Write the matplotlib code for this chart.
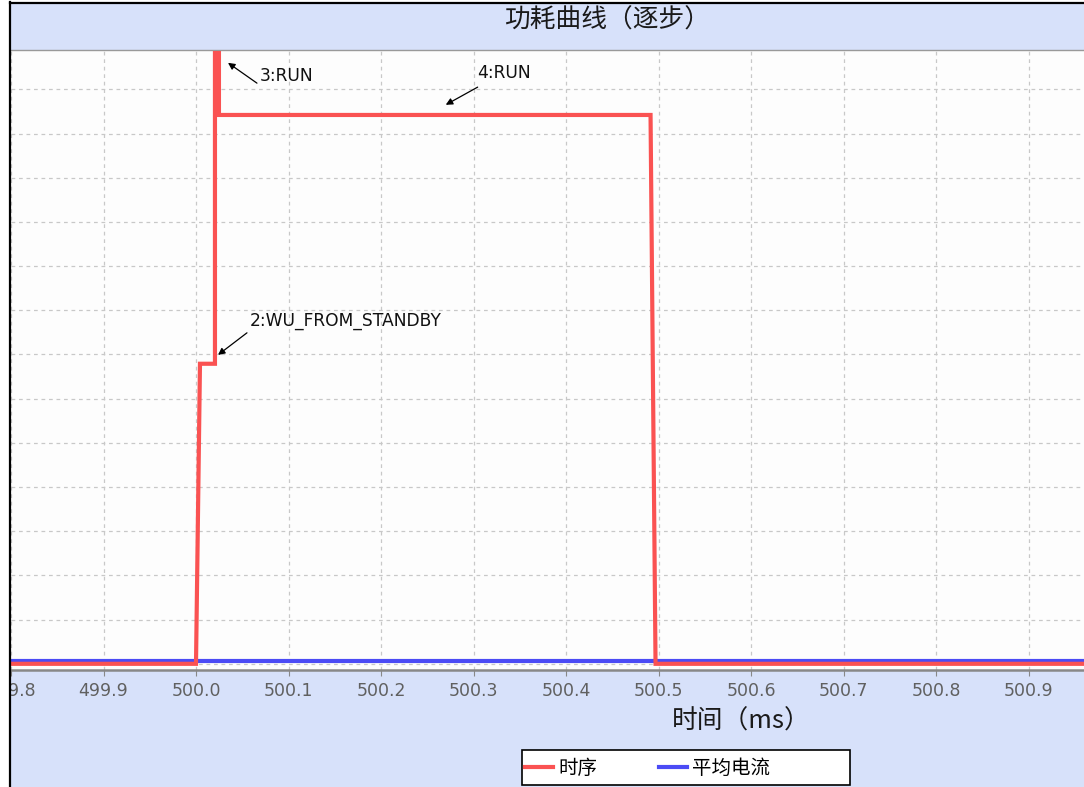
import matplotlib
matplotlib.use('Agg')
import matplotlib.pyplot as plt
from matplotlib.patches import Rectangle
from matplotlib.lines import Line2D
from matplotlib.transforms import Bbox, TransformedBbox

# step-wise power curve
timing_x = [499.80, 500.000, 500.0043, 500.0205, 500.0205, 500.0248, 500.0248, 500.4914, 500.4968, 500.96]
timing_y = [0.0, 0.0, 6.79, 6.79, 13.82, 13.82, 12.42, 12.42, 0.0, 0.0]
avg_x = [499.80, 500.96]
avg_y = [0.06, 0.06]

x_ticks = [499.8, 499.9, 500.0, 500.1, 500.2, 500.3, 500.4, 500.5, 500.6, 500.7, 500.8, 500.9]
x_tick_labels = ['499.8', '499.9', '500.0', '500.1', '500.2', '500.3', '500.4', '500.5',
                 '500.6', '500.7', '500.8', '500.9']
y_grid = list(range(0, 14))

# annotations: label, text pos, arrow tail, arrow head
notes = [
    ('3:RUN', (500.069, 13.30), (500.0659, 13.14), (500.0346, 13.60)),
    ('4:RUN', (500.3035, 13.37), (500.3045, 13.05), (500.270, 12.65)),
    ('2:WU_FROM_STANDBY', (500.0583, 7.76), (500.0551, 7.49), (500.0238, 6.99)),
]

W, H = 1084, 787
band = '#d7e1fa'
cjk = ['Noto Sans CJK SC', 'DejaVu Sans']

fig = plt.figure(figsize=(W / 100, H / 100), dpi=100, facecolor='white')
fig.patches.append(Rectangle((11 / W, 0), 1, 1 - 3 / H, transform=fig.transFigure,
                             facecolor=band, edgecolor='none', zorder=-10))
fig.lines.append(Line2D([10 / W, 10 / W], [0, 1 - 2 / H], transform=fig.transFigure,
                        color='black', lw=1.6))
fig.lines.append(Line2D([10 / W, 1], [1 - 3 / H, 1 - 3 / H], transform=fig.transFigure,
                        color='black', lw=1.6))

ax = fig.add_axes([11 / W, 1 - 670 / H, 1 - 11 / W, (670 - 50) / H])
ax.set_facecolor('#fdfdfd')
ax.plot(avg_x, avg_y, color='#4b4bf5', lw=3, label='平均电流', zorder=3, solid_joinstyle='miter')
ax.plot(timing_x, timing_y, color='#fa5252', lw=3, label='时序', zorder=4, solid_joinstyle='miter')

ax.set_xlim(499.80, 500.96)
ax.set_ylim(-0.14, 13.89)
ax.set_xticks(x_ticks)
ax.set_xticklabels(x_tick_labels, fontsize=12.5, color='#606060', family='DejaVu Sans')
ax.set_yticks(y_grid)
ax.tick_params(axis='x', length=4, color='#888888', pad=5)
ax.tick_params(axis='y', left=False, labelleft=False)
ax.grid(True, color='#c8c8c8', ls=(0, (3, 3)), lw=0.9)
for s in ['left', 'right']:
    ax.spines[s].set_visible(False)
ax.spines['bottom'].set_color('#888888')
ax.spines['bottom'].set_linewidth(1.8)
ax.spines['top'].set_color('#999999')
ax.spines['top'].set_linewidth(1)

# the chart is cropped at the left border, so the first label is cut there
clip = TransformedBbox(Bbox([[11 / W, 0], [1, 1]]), fig.transFigure)
for t in ax.get_xticklabels():
    t.set_clip_box(clip)
    t.set_clip_on(True)

for label, txt, tail, head in notes:
    ax.annotate('', xy=head, xytext=tail,
                arrowprops=dict(arrowstyle='-|>', color='black', lw=0.9, mutation_scale=10,
                                shrinkA=0, shrinkB=0), zorder=6)
    ax.text(txt[0], txt[1], label, fontsize=12.3, va='center', ha='left', color='#111111',
            family='DejaVu Sans', zorder=6)

fig.text(607 / W, 1 - 21 / H, '功耗曲线（逐步）', fontsize=18.5, ha='center', va='center',
         family=cjk, color='#1a1a1a')
fig.text(741 / W, 1 - 722 / H, '时间（ms）', fontsize=18.5, ha='center', va='center',
         family=cjk, color='#1a1a1a')

fig.patches.append(Rectangle((522 / W, 1 - 785 / H), 328 / W, 35 / H, transform=fig.transFigure,
                             facecolor='white', edgecolor='black', lw=1.2, zorder=5))
handles, labels = ax.get_legend_handles_labels()
leg = fig.legend(handles[::-1], labels[::-1], ncol=2, loc='center left',
                 bbox_to_anchor=(525 / W, 1 - 768 / H), frameon=False,
                 prop={'family': cjk, 'size': 14}, handlelength=1.45, handletextpad=0.25,
                 columnspacing=3.2, borderaxespad=0, borderpad=0)
leg.set_zorder(6)

fig.savefig('out.png', dpi=100, facecolor='white')
